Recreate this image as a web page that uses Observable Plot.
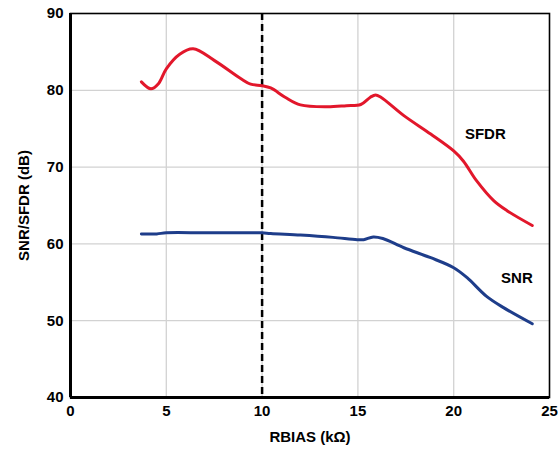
<!DOCTYPE html>
<html><head><meta charset="utf-8">
<script src="https://cdn.jsdelivr.net/npm/d3@7"></script>
<script src="https://cdn.jsdelivr.net/npm/@observablehq/plot@0.6"></script>
<style>
body{margin:0;background:#fff;}
svg{font-family:"Liberation Sans",Arial,sans-serif;}
</style></head>
<body><div id="chart"></div>
<script>
const sfdrX = [3.7, 4.2, 4.6, 5.0, 5.7, 6.4, 7.5, 8.9, 9.4, 10.0, 10.45, 11.2, 12.0, 13.4, 14.4, 15.15, 15.65, 15.92, 16.2, 17.4, 18.8, 20.0, 20.5, 21.2, 22.1, 22.8, 24.1];
const sfdrY = [81.1, 80.2, 80.9, 82.8, 84.7, 85.4, 83.9, 81.5, 80.8, 80.6, 80.3, 79.1, 78.1, 77.85, 78.0, 78.15, 79.1, 79.4, 79.1, 76.7, 74.3, 72.1, 70.8, 68.2, 65.6, 64.3, 62.4];
const snrX = [3.7, 4.5, 5.0, 7.0, 9.0, 10.0, 10.45, 12.0, 13.7, 14.96, 15.3, 15.8, 16.3, 17.4, 18.8, 20.0, 20.7, 21.7, 22.6, 24.1];
const snrY = [61.3, 61.3, 61.45, 61.45, 61.45, 61.45, 61.35, 61.15, 60.85, 60.55, 60.55, 60.9, 60.7, 59.5, 58.2, 56.9, 55.6, 53.2, 51.7, 49.6];
const xTicks = [0, 5, 10, 15, 20, 25];
const yTicks = [40, 50, 60, 70, 80, 90];
const markerX = [10];
const seriesLabels = ["SFDR", "SNR"];
const labelX = [21.65, 23.3];
const labelY = [74.3, 55.5];

const sfdr = sfdrX.map((x, i) => ({x, y: sfdrY[i]}));
const snr = snrX.map((x, i) => ({x, y: snrY[i]}));
const labels = seriesLabels.map((t, i) => ({t, x: labelX[i], y: labelY[i]}));

const chart = Plot.plot({
  width: 558, height: 451,
  marginLeft: 70, marginRight: 9, marginTop: 13, marginBottom: 54,
  style: {fontFamily: '"Liberation Sans", Arial, sans-serif', fontSize: "15px", fontWeight: "bold", color: "#000", background: "#fff"},
  x: {domain: [0, 25]},
  y: {domain: [40, 90]},
  marks: [
    Plot.gridX(xTicks.slice(1, -1), {stroke: "#d2d2d2", strokeOpacity: 1, strokeWidth: 1.3}),
    Plot.gridY(yTicks.slice(1, -1), {stroke: "#d2d2d2", strokeOpacity: 1, strokeWidth: 1.3}),
    Plot.axisX(xTicks, {tickSize: 0, tickPadding: 8, fontSize: 15, fontWeight: "bold", label: "RBIAS (kΩ)", labelAnchor: "center", labelArrow: "none", labelOffset: 44}),
    Plot.axisY(yTicks, {tickSize: 0, tickPadding: 7, fontSize: 15, fontWeight: "bold", label: "SNR/SFDR (dB)", labelAnchor: "center", labelArrow: "none", labelOffset: 52}),
    Plot.frame({stroke: "#000", strokeWidth: 1.6}),
    Plot.ruleX([0], {stroke: "#000", strokeWidth: 3}),
    Plot.ruleY([40], {stroke: "#000", strokeWidth: 3}),
    Plot.ruleX(markerX, {stroke: "#000", strokeWidth: 2.5, strokeDasharray: "7,4"}),
    Plot.line(sfdr, {x: "x", y: "y", stroke: "#e2172b", strokeWidth: 3, curve: "catmull-rom"}),
    Plot.line(snr, {x: "x", y: "y", stroke: "#1e3d8a", strokeWidth: 3, curve: "catmull-rom"}),
    Plot.text(labels, {x: "x", y: "y", text: "t", fontSize: 15, fontWeight: "bold", fill: "#000"})
  ]
});
document.getElementById("chart").appendChild(chart);
</script>
</body></html>
